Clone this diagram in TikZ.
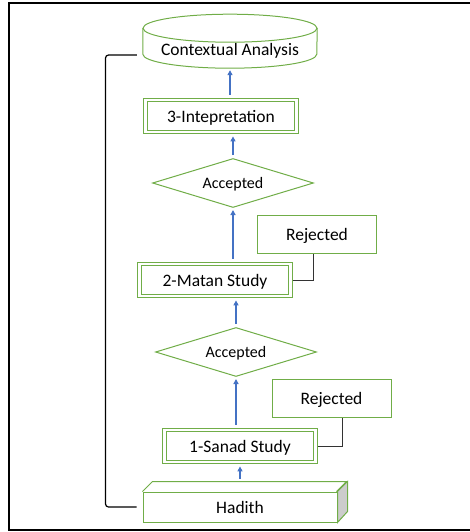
\documentclass[tikz,border=0pt]{standalone}
\usepackage{fontspec}
\setmainfont{Carlito}
\usetikzlibrary{arrows.meta,positioning,shapes.geometric}
\definecolor{leaf}{HTML}{70AD47}
\definecolor{sky}{HTML}{4472C4}

\begin{document}
\begin{tikzpicture}[x=1pt,y=-1pt,
  txt/.style={font=\fontsize{17.5}{20}\selectfont,text height=12.5pt,text depth=0.5pt},
  stage/.style={txt,rectangle,draw=leaf,line width=1.1pt,double=white,double distance=2.4pt,
                fill=white,minimum width=151pt,minimum height=32pt,inner sep=0pt,outer sep=2.4pt},
  check/.style={diamond,draw=leaf,line width=1pt,fill=white,aspect=3.2,inner sep=0pt,
                minimum width=161pt,minimum height=49pt,font=\fontsize{16}{19}\selectfont,
                text height=11pt,text depth=0.5pt},
  reject/.style={txt,rectangle,draw=leaf,line width=1pt,fill=white,minimum width=119pt,
                minimum height=38pt},
  store/.style={txt,rectangle,minimum width=174pt,minimum height=36pt,inner sep=0pt},
  block/.style={txt,rectangle,draw=leaf,line width=1pt,fill=white,minimum width=194pt,
                minimum height=30pt,inner sep=0pt},
  arr/.style={-{Triangle[length=5pt,width=5pt]},line width=1.6pt,sky,shorten <=3pt,shorten >=2pt},
  link/.style={line width=1pt,black!80},
  brace/.style={line width=1.2pt,black,rounded corners=3pt}
]
\useasboundingbox (0,0) rectangle (470,532);
\draw[line width=1.4pt] (470,3) -- (9,3) -- (9,530) -- (470,530);

\node[store] (ctx) at (230,50) {Contextual Analysis};
\draw[leaf,line width=1pt] ([yshift=40pt]ctx.south west) -- ([yshift=14pt]ctx.south west)
  arc (180:360:87pt and 14pt) -- ([yshift=40pt]ctx.south east);
\draw[leaf,line width=1pt] ([yshift=40pt]ctx.south) ellipse (87pt and 14pt);
\node[stage] (interp) at (221,116) {3-Intepretation};
\node[check] (acc2) at (233,183) {Accepted};
\node[reject] (rej2) at (317,234) {Rejected};
\node[stage] (matan) at (215,280) {2-Matan Study};
\node[check] (acc1) at (236,352) {Accepted};
\node[reject] (rej1) at (331.5,398) {Rejected};
\node[stage] (sanad) at (240,446) {1-Sanad Study};
\node[block] (hadith) at (240,507) {Hadith};

\draw[leaf,line width=1pt] (hadith.north west) -- ++(10,-10) -- ++(194,0) -- ++(-10,10);
\filldraw[draw=leaf,fill=black!20,line width=1pt] (hadith.north east) -- ++(10,-10) -- ++(0,30)
  -- (hadith.south east) -- cycle;
\coordinate (hadithtop) at ([yshift=10pt]hadith.north);

\draw[arr] (sanad.south |- hadithtop) -- (sanad.south);
\draw[arr] (acc1.south |- sanad.north) -- (acc1.south);
\draw[arr] (acc1.north) -- (acc1.north |- matan.south);
\draw[arr] (acc2.south |- matan.north) -- (acc2.south);
\draw[arr] (acc2.north) -- (acc2.north |- interp.south);
\draw[arr] (ctx.south |- interp.north) -- (ctx.south);

\draw[link] (matan.east) -| ([xshift=-4pt]rej2.south);
\draw[link] (sanad.east) -| ([xshift=10.5pt]rej1.south);
\draw[brace] ([xshift=-6pt]hadith.west) -- ++(-31,0) |- ([xshift=-6pt,yshift=-5pt]ctx.west);
\end{tikzpicture}
\end{document}
